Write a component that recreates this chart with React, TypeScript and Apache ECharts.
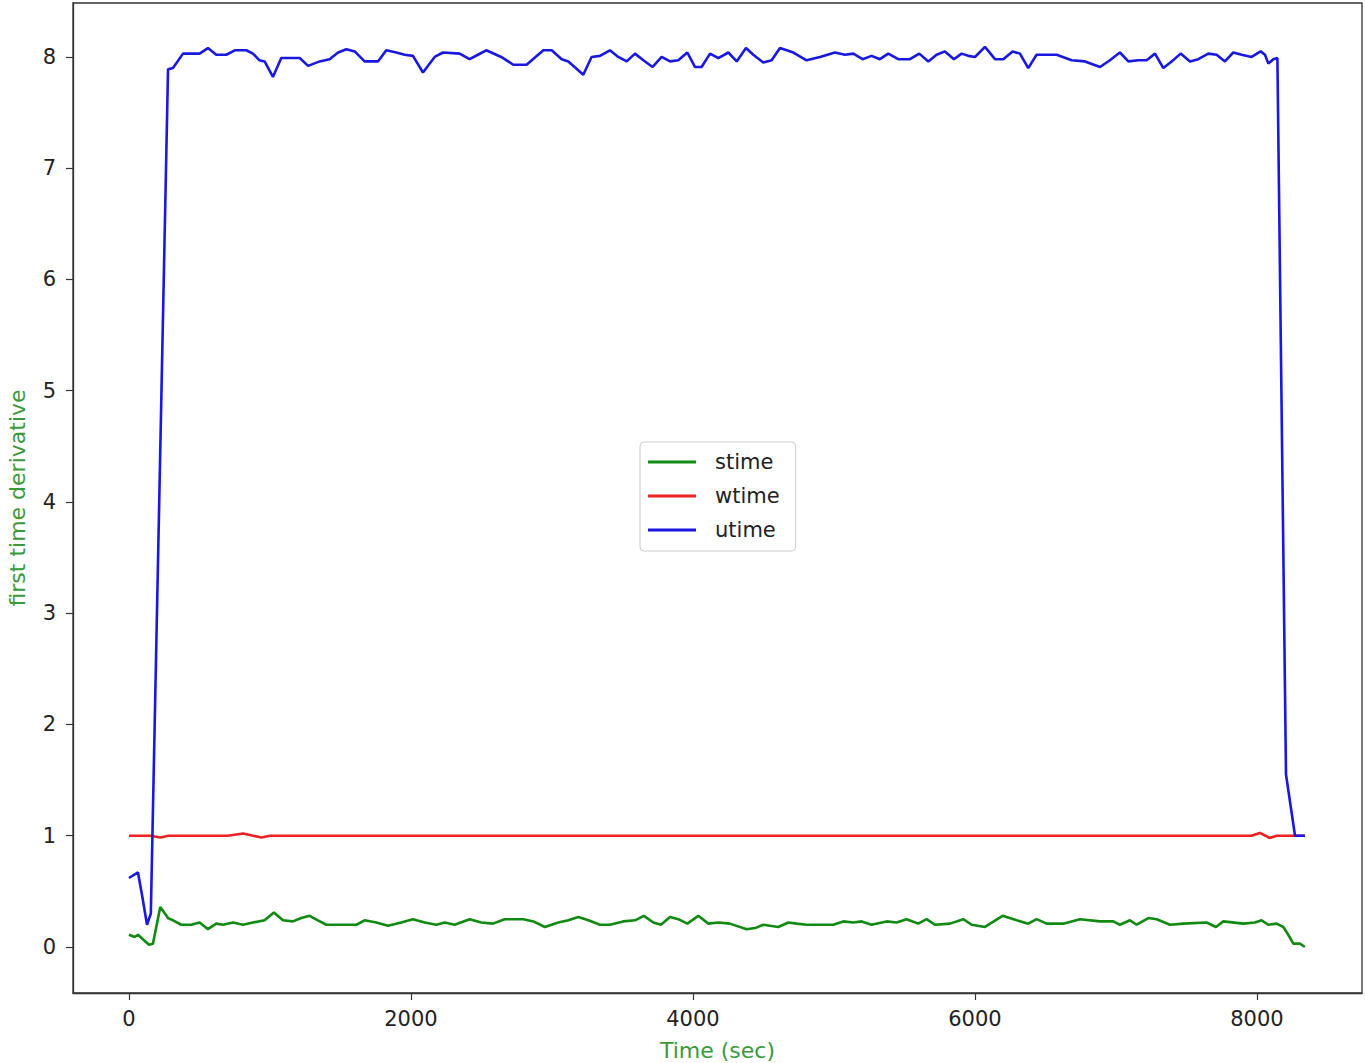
import React, { useEffect, useRef } from "react";
import * as echarts from "echarts";

// ---- data ----
const stimeT = [0, 40, 64, 99, 142, 170, 222, 277, 312, 371, 442, 501, 560, 619, 667, 738, 809, 879, 962, 1028, 1092, 1163, 1222, 1281, 1340, 1400, 1494, 1613, 1671, 1754, 1837, 1931, 2014, 2097, 2180, 2239, 2310, 2416, 2499, 2581, 2664, 2797, 2868, 2950, 3045, 3116, 3187, 3258, 3340, 3411, 3506, 3589, 3652, 3719, 3773, 3837, 3896, 3960, 4038, 4109, 4180, 4262, 4381, 4440, 4499, 4605, 4676, 4735, 4806, 4995, 5066, 5137, 5196, 5267, 5373, 5444, 5515, 5598, 5657, 5716, 5823, 5917, 5976, 6071, 6196, 6296, 6378, 6437, 6508, 6626, 6745, 6887, 6981, 7028, 7099, 7147, 7230, 7289, 7383, 7478, 7643, 7709, 7761, 7903, 7986, 8033, 8081, 8140, 8187, 8222, 8258, 8305, 8340];
const stimeV = [0.11, 0.09, 0.11, 0.07, 0.02, 0.03, 0.36, 0.26, 0.24, 0.2, 0.2, 0.22, 0.16, 0.21, 0.2, 0.22, 0.2, 0.22, 0.24, 0.31, 0.24, 0.23, 0.26, 0.28, 0.24, 0.2, 0.2, 0.2, 0.24, 0.22, 0.19, 0.22, 0.25, 0.22, 0.2, 0.22, 0.2, 0.25, 0.22, 0.21, 0.25, 0.25, 0.23, 0.18, 0.22, 0.24, 0.27, 0.24, 0.2, 0.2, 0.23, 0.24, 0.28, 0.22, 0.2, 0.27, 0.25, 0.21, 0.28, 0.21, 0.22, 0.21, 0.16, 0.17, 0.2, 0.18, 0.22, 0.21, 0.2, 0.2, 0.23, 0.22, 0.23, 0.2, 0.23, 0.22, 0.25, 0.21, 0.25, 0.2, 0.21, 0.25, 0.2, 0.18, 0.28, 0.24, 0.21, 0.25, 0.21, 0.21, 0.25, 0.23, 0.23, 0.2, 0.24, 0.2, 0.26, 0.25, 0.2, 0.21, 0.22, 0.18, 0.23, 0.21, 0.22, 0.24, 0.2, 0.21, 0.18, 0.11, 0.03, 0.03, 0.0];

const wtimeT = [0, 150, 222, 280, 700, 809, 880, 939, 1000, 7960, 8021, 8060, 8088, 8140, 8340];
const wtimeV = [1.0, 1.0, 0.985, 1.0, 1.0, 1.02, 1.0, 0.985, 1.0, 1.0, 1.025, 1.0, 0.98, 1.0, 1.0];

const utimeT = [0, 64, 95, 128, 155, 277, 312, 383, 501, 560, 619, 690, 750, 832, 879, 926, 962, 1021, 1080, 1151, 1211, 1270, 1352, 1423, 1483, 1542, 1601, 1671, 1766, 1825, 1896, 1955, 2014, 2085, 2168, 2227, 2345, 2416, 2475, 2534, 2640, 2726, 2820, 2939, 2998, 3069, 3116, 3222, 3281, 3340, 3411, 3470, 3530, 3589, 3648, 3714, 3778, 3837, 3896, 3960, 4014, 4061, 4121, 4180, 4251, 4310, 4376, 4428, 4499, 4558, 4617, 4712, 4806, 4901, 5007, 5078, 5137, 5203, 5267, 5326, 5385, 5456, 5539, 5605, 5669, 5728, 5787, 5851, 5905, 5953, 6000, 6071, 6142, 6201, 6267, 6319, 6378, 6437, 6579, 6686, 6780, 6887, 6957, 7028, 7088, 7159, 7218, 7277, 7336, 7395, 7459, 7525, 7584, 7655, 7714, 7773, 7832, 7891, 7962, 8026, 8057, 8081, 8116, 8145, 8206, 8270, 8340];
const utimeV = [0.62, 0.67, 0.45, 0.2, 0.3, 7.89, 7.9, 8.03, 8.03, 8.08, 8.02, 8.02, 8.06, 8.06, 8.03, 7.97, 7.96, 7.82, 7.99, 7.99, 7.99, 7.92, 7.96, 7.98, 8.04, 8.07, 8.05, 7.96, 7.96, 8.06, 8.04, 8.02, 8.01, 7.86, 8.0, 8.04, 8.03, 7.98, 8.02, 8.06, 8.0, 7.93, 7.93, 8.06, 8.06, 7.98, 7.96, 7.84, 8.0, 8.01, 8.06, 8.0, 7.96, 8.03, 7.97, 7.91, 8.0, 7.96, 7.97, 8.04, 7.91, 7.91, 8.03, 7.99, 8.04, 7.96, 8.08, 8.02, 7.95, 7.97, 8.08, 8.04, 7.97, 8.0, 8.04, 8.02, 8.03, 7.98, 8.01, 7.98, 8.03, 7.98, 7.98, 8.03, 7.96, 8.02, 8.05, 7.98, 8.03, 8.01, 8.0, 8.09, 7.98, 7.98, 8.05, 8.03, 7.9, 8.02, 8.02, 7.97, 7.96, 7.91, 7.97, 8.04, 7.96, 7.97, 7.97, 8.03, 7.9, 7.96, 8.03, 7.96, 7.98, 8.03, 8.02, 7.96, 8.04, 8.02, 8.0, 8.05, 8.02, 7.94, 7.98, 7.99, 1.55, 1.0, 1.0];

const xTicks = [0, 2000, 4000, 6000, 8000];
const yTicks = [0, 1, 2, 3, 4, 5, 6, 7, 8];

const seriesNames = ["stime", "wtime", "utime"];
const seriesColors = ["#108a10", "#ee2020", "#1818e0"];

const pairs = (t: number[], v: number[]) => t.map((x, i) => [x, v[i]]);

export default function App() {
  const ref = useRef<HTMLDivElement>(null);
  useEffect(() => {
    document.body.style.margin = "0";
    if (!ref.current) return;
    const chart = echarts.init(ref.current, null, { renderer: "svg" });
    const font = "DejaVu Sans";
    const axisColor = "#333333";
    const datasets = [pairs(stimeT, stimeV), pairs(wtimeT, wtimeV), pairs(utimeT, utimeV)];
    chart.setOption({
      animation: false,
      backgroundColor: "#ffffff",
      grid: {
        left: 73,
        right: 3,
        top: 3,
        bottom: 70,
        containLabel: false,
        outerBoundsMode: "none",
        show: true,
        borderColor: axisColor,
        borderWidth: 1.3,
        backgroundColor: "transparent",
      },
      legend: {
        orient: "vertical",
        left: 640,
        top: 442,
        padding: [8, 16, 9, 8],
        icon: "rect",
        itemWidth: 48,
        itemHeight: 3,
        itemGap: 10,
        borderColor: "#cccccc",
        borderWidth: 1,
        borderRadius: 4,
        backgroundColor: "rgba(255,255,255,0.8)",
        textStyle: { fontFamily: font, fontSize: 21, color: "#222", lineHeight: 24, padding: [0, 0, 0, 14] },
        data: seriesNames,
      },
      xAxis: {
        type: "value",
        min: -397,
        max: 8745,
        name: "Time (sec)",
        nameLocation: "middle",
        nameGap: 46,
        nameTextStyle: { fontFamily: font, fontSize: 22, color: "#3a9a3a" },
        axisLine: { show: true, onZero: false, lineStyle: { color: axisColor, width: 1.3 } },
        axisTick: { show: true, inside: false, length: 7, customValues: xTicks, lineStyle: { color: axisColor, width: 1.2 } },
        axisLabel: {
          customValues: xTicks,
          margin: 15,
          fontFamily: font,
          fontSize: 21,
          color: "#222",
          formatter: (v: number) => String(v),
        },
        splitLine: { show: false },
      },
      yAxis: {
        type: "value",
        min: -0.4135,
        max: 8.485,
        name: "first time derivative",
        nameLocation: "middle",
        nameRotate: 90,
        nameGap: 45,
        nameTextStyle: { fontFamily: font, fontSize: 22, color: "#3a9a3a" },
        axisLine: { show: true, onZero: false, lineStyle: { color: axisColor, width: 1.3 } },
        axisTick: { show: true, inside: false, length: 7, customValues: yTicks, lineStyle: { color: axisColor, width: 1.2 } },
        axisLabel: {
          customValues: yTicks,
          margin: 17,
          fontFamily: font,
          fontSize: 21,
          color: "#222",
          formatter: (v: number) => String(v),
        },
        splitLine: { show: false },
      },
      series: seriesNames.map((name, i) => ({
        name,
        type: "line",
        data: datasets[i],
        symbol: "none",
        showSymbol: false,
        smooth: false,
        color: seriesColors[i],
        itemStyle: { color: seriesColors[i] },
        lineStyle: { color: seriesColors[i], width: 2.6 },
        z: 2 + i,
      })),
    });
    return () => chart.dispose();
  }, []);
  return <div ref={ref} style={{ width: 1365, height: 1063 }} />;
}
